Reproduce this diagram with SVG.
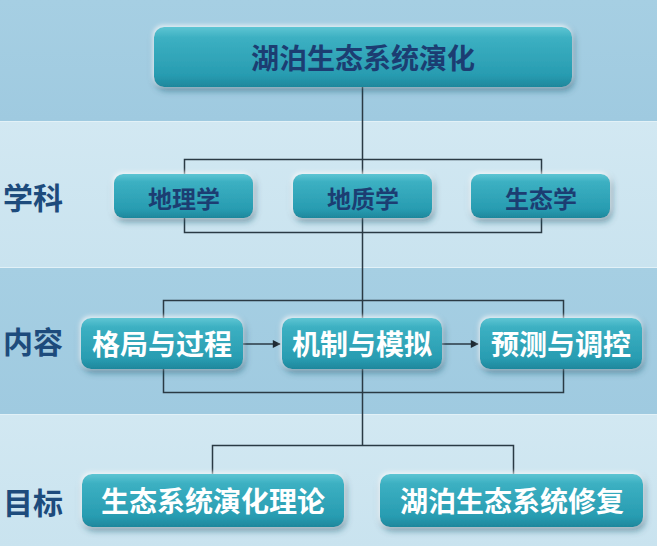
<svg xmlns="http://www.w3.org/2000/svg" width="657" height="546" viewBox="0 0 657 546">
<defs>
<style>
.side{font-family:"Noto Sans CJK SC","Noto Sans",sans-serif;font-weight:bold;font-size:30px;fill:#1d4b7c}
.lbl{font-family:"Noto Sans CJK SC","Noto Sans",sans-serif;font-weight:bold;text-anchor:middle;dominant-baseline:central}
.dark{fill:#1c3d72}
.light{fill:#ffffff}
.box{fill:url(#boxg);filter:url(#sh)}
.ln{fill:none;stroke:#2a3a44;stroke-width:1.5}
</style>
<linearGradient id="boxg" x1="0" y1="0" x2="0" y2="1">
<stop offset="0" stop-color="#5ec5d3"/>
<stop offset="0.18" stop-color="#3cb0c2"/>
<stop offset="0.8" stop-color="#289cb1"/>
<stop offset="1" stop-color="#1e879c"/>
</linearGradient>
<linearGradient id="dband" x1="0" y1="0" x2="0" y2="1">
<stop offset="0" stop-color="#a6cfe3"/>
<stop offset="1" stop-color="#9fcae0"/>
</linearGradient>
<linearGradient id="lband" x1="0" y1="0" x2="0" y2="1">
<stop offset="0" stop-color="#d2e8f2"/>
<stop offset="1" stop-color="#c9e3ef"/>
</linearGradient>
<filter id="sh" x="-10%" y="-30%" width="125%" height="170%">
<feDropShadow dx="-1" dy="-2" stdDeviation="2" flood-color="#ffffff" flood-opacity="0.7"/>
<feDropShadow dx="2" dy="4" stdDeviation="3" flood-color="#1d4d60" flood-opacity="0.45"/>
</filter>
<marker id="arr" viewBox="0 0 10 10" refX="9" refY="5" markerWidth="9" markerHeight="8" markerUnits="userSpaceOnUse" orient="auto">
<path d="M0,0 L10,5 L0,10 z" fill="#1e2a33"/>
</marker>
</defs>

<g id="background">
<rect x="0" y="0" width="657" height="121" fill="url(#dband)"/>
<rect x="0" y="121" width="657" height="146" fill="url(#lband)"/>
<rect x="0" y="267" width="657" height="147" fill="url(#dband)"/>
<rect x="0" y="414" width="657" height="132" fill="url(#lband)"/>
<line x1="0" y1="121.5" x2="657" y2="121.5" stroke="#e2f1f7" stroke-width="1"/>
<line x1="0" y1="267.5" x2="657" y2="267.5" stroke="#e2f1f7" stroke-width="1"/>
<line x1="0" y1="414.5" x2="657" y2="414.5" stroke="#e2f1f7" stroke-width="1"/>
</g>

<g id="side-labels">
<text class="side" x="3" y="209">学科</text>
<text class="side" x="3" y="353">内容</text>
<text class="side" x="3" y="514">目标</text>
</g>

<g id="connectors">
<line class="ln" x1="362.5" y1="87" x2="362.5" y2="445"/>
<rect class="ln" x="184.5" y="159.5" width="357" height="73"/>
<rect class="ln" x="163.5" y="300.5" width="400" height="92"/>
<polyline class="ln" points="212.5,474 212.5,445.5 513.5,445.5 513.5,474"/>
<line class="ln" x1="243" y1="344" x2="280" y2="344" marker-end="url(#arr)"/>
<line class="ln" x1="442" y1="344" x2="478" y2="344" marker-end="url(#arr)"/>
</g>

<g id="n-root">
<rect class="box" x="154" y="27" width="418" height="60" rx="10"/>
<text class="lbl dark" x="363" y="57" font-size="28">湖泊生态系统演化</text>
</g>

<g id="n-dilixue">
<rect class="box" x="114" y="174" width="139" height="44" rx="9"/>
<text class="lbl dark" x="184" y="197" font-size="24">地理学</text>
</g>
<g id="n-dizhixue">
<rect class="box" x="293" y="174" width="139" height="44" rx="9"/>
<text class="lbl dark" x="363" y="197" font-size="24">地质学</text>
</g>
<g id="n-shengtaixue">
<rect class="box" x="471" y="174" width="139" height="44" rx="9"/>
<text class="lbl dark" x="541" y="197" font-size="24">生态学</text>
</g>

<g id="n-geju">
<rect class="box" x="81" y="318" width="162" height="51" rx="10"/>
<text class="lbl light" x="162" y="343" font-size="28">格局与过程</text>
</g>
<g id="n-jizhi">
<rect class="box" x="282" y="318" width="160" height="51" rx="10"/>
<text class="lbl light" x="362" y="343" font-size="28">机制与模拟</text>
</g>
<g id="n-yuce">
<rect class="box" x="480" y="318" width="162" height="51" rx="10"/>
<text class="lbl light" x="561" y="343" font-size="28">预测与调控</text>
</g>

<g id="n-lilun">
<rect class="box" x="82" y="474" width="262" height="53" rx="10"/>
<text class="lbl light" x="213" y="500" font-size="28">生态系统演化理论</text>
</g>
<g id="n-xiufu">
<rect class="box" x="380" y="474" width="263" height="53" rx="10"/>
<text class="lbl light" x="512" y="500" font-size="28">湖泊生态系统修复</text>
</g>
</svg>
